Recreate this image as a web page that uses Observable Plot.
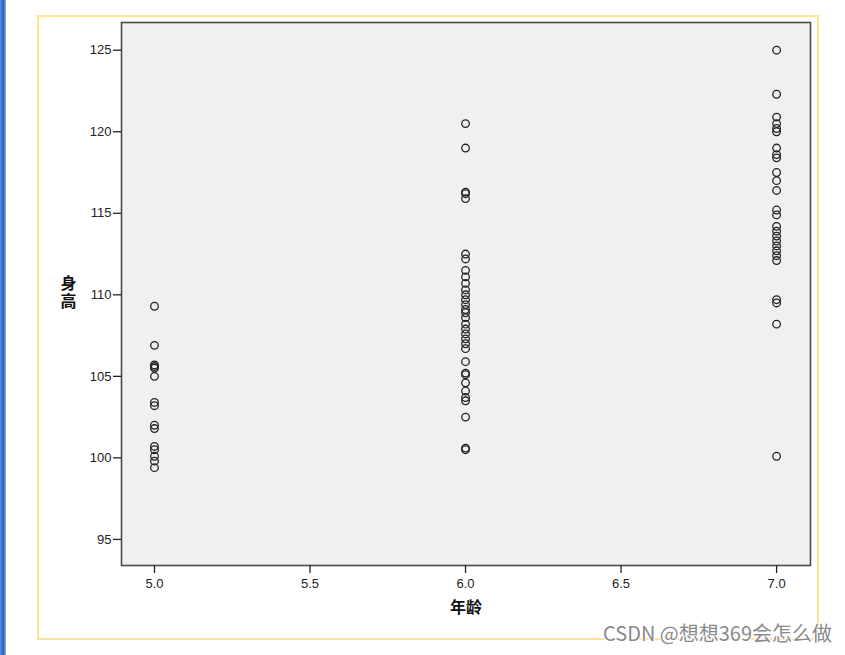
<!DOCTYPE html>
<html>
<head>
<meta charset="utf-8">
<script src="https://cdn.jsdelivr.net/npm/d3@7"></script>
<script src="https://cdn.jsdelivr.net/npm/@observablehq/plot@0.6"></script>
<style>
  html, body { margin: 0; padding: 0; background: #fff; }
  #page { position: relative; width: 845px; height: 655px; overflow: hidden; background: #fff; }
  #bluebar { position: absolute; left: 0; top: 0; width: 6px; height: 655px;
    background: linear-gradient(to right, #5a8ad8, #2f5fb8 60%, #9bb8e8); }
  #frame { position: absolute; left: 37px; top: 15px; width: 782px; height: 625px;
    border: 2px solid #fde58c; box-sizing: border-box; }
  #chart { position: absolute; left: 0; top: 0; }
  #wm { position: absolute; left: 603px; top: 620px; font-family: "Noto Sans CJK SC", "Liberation Sans", sans-serif;
    font-size: 20px; line-height: 26px; color: #8a8a8a; white-space: nowrap;
    text-shadow: 1px 1px 0 #fff, -1px -1px 0 #fff, 1px -1px 0 #fff, -1px 1px 0 #fff; }
</style>
</head>
<body>
<div id="page">
  <div id="bluebar"></div>
  <div id="frame"></div>
  <div id="chart"></div>
  <div id="wm">CSDN @想想369会怎么做</div>
</div>
<script>
// Data
const ages = [5, 6, 7];
const heights5 = [109.3, 106.9, 105.7, 105.6, 105.5, 105.0, 103.4, 103.2, 102.0, 101.8, 100.7, 100.5, 100.1, 99.8, 99.4];
const heights6 = [120.5, 119.0, 116.3, 116.2, 115.9, 112.5, 112.2, 111.5, 111.1, 110.7, 110.3, 110.0, 109.7, 109.4, 109.1,
                  108.9, 108.6, 108.2, 107.9, 107.6, 107.3, 107.0, 106.7, 105.9, 105.2, 105.1, 104.6, 104.1, 103.7, 103.5,
                  102.5, 100.6, 100.5];
const heights7 = [125.0, 122.3, 120.9, 120.5, 120.2, 120.0, 119.0, 118.6, 118.4, 117.5, 117.0, 116.4, 115.2, 114.9, 114.2,
                  113.9, 113.6, 113.3, 113.0, 112.7, 112.4, 112.1, 109.7, 109.5, 108.2, 100.1];
const xTicks = [5.0, 5.5, 6.0, 6.5, 7.0];
const yTicks = [95, 100, 105, 110, 115, 120, 125];
const xLabel = "年龄";
const yLabel = "身高";

const groups = [heights5, heights6, heights7];
const data = [];
groups.forEach((hs, i) => hs.forEach(h => data.push({age: ages[i], height: h})));

const chart = Plot.plot({
  width: 845,
  height: 655,
  marginLeft: 121,
  marginRight: 35,
  marginTop: 22,
  marginBottom: 90,
  style: { fontFamily: "'Liberation Sans', Arial, sans-serif", fontSize: "13px", background: "transparent", color: "#222", overflow: "visible" },
  x: { domain: [4.894, 7.109], label: null },
  y: { domain: [93.4, 126.7], label: null },
  marks: [
    Plot.frame({ fill: "#f0f0f0", stroke: "#4a4a4a", strokeWidth: 1.6 }),
    Plot.axisY({ ticks: yTicks, tickSize: 8, tickPadding: 2, stroke: "#222", strokeWidth: 1.3, label: null, fontSize: 13 }),
    Plot.axisX({ ticks: xTicks, tickSize: 8, tickPadding: 5, tickFormat: d3.format(".1f"), stroke: "#222", strokeWidth: 1.3, label: null, fontSize: 13 }),
    Plot.dot(data, { x: "age", y: "height", r: 3.8, stroke: "#222", fill: "none", strokeWidth: 1.3 }),
    Plot.text([yLabel], { frameAnchor: "left", textAnchor: "middle", dx: -53, fontSize: 16, fontWeight: "bold",
      fontFamily: "'Noto Sans CJK SC', sans-serif", fill: "#111" }),
    Plot.text([xLabel], { frameAnchor: "bottom", dy: 47, fontSize: 16, fontWeight: "bold",
      fontFamily: "'Noto Sans CJK SC', sans-serif", fill: "#111" })
  ]
});
// Render the y label as vertical (stacked) text, like the reference
const yText = chart.querySelectorAll("g[aria-label='text'] text")[0];
if (yText) {
  yText.setAttribute("style", "writing-mode: vertical-rl; text-orientation: upright; letter-spacing: 2px;");
  yText.setAttribute("dy", "-6");
}
document.getElementById("chart").appendChild(chart);
</script>
</body>
</html>
